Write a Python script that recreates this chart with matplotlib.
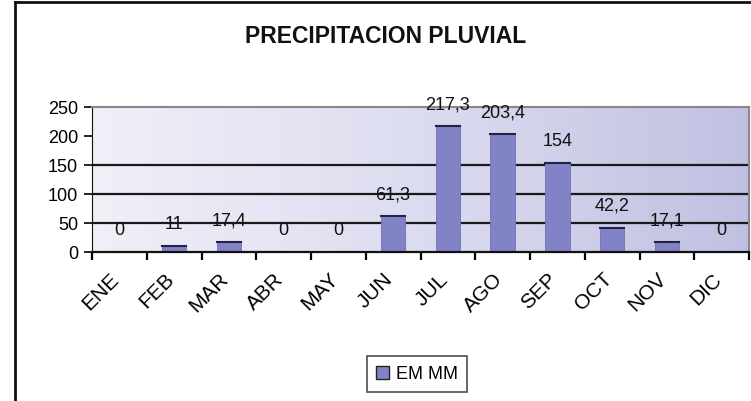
import numpy as np
import matplotlib
matplotlib.use("Agg")
import matplotlib.pyplot as plt
import matplotlib.transforms as mtransforms
from matplotlib.lines import Line2D
from matplotlib.patches import Patch
from matplotlib.colors import LinearSegmentedColormap

# datos
meses = ["ENE", "FEB", "MAR", "ABR", "MAY", "JUN", "JUL", "AGO", "SEP", "OCT", "NOV", "DIC"]
em_mm = [0, 11, 17.4, 0, 0, 61.3, 217.3, 203.4, 154, 42.2, 17.1, 0]
etiquetas = ["0", "11", "17,4", "0", "0", "61,3", "217,3", "203,4", "154", "42,2", "17,1", "0"]
yticks = [0, 50, 100, 150, 200, 250]
lineas_grid = [50, 100, 150]

plt.rcParams['font.family'] = ['Liberation Sans', 'DejaVu Sans']

fig = plt.figure(figsize=(7.51, 4.02), dpi=100)
ax = fig.add_axes([92/751, 1-253/402, 657/751, 145/402])

# fondo degradado (lavanda)
grad = np.linspace(0, 1, 256).reshape(1, -1)
cmap = LinearSegmentedColormap.from_list("fondo", ["#f0f0f8", "#dcdcf0", "#c0c0e2"])
ax.imshow(grad, extent=[-0.5, 11.5, 0, 250], aspect="auto", cmap=cmap, zorder=0)

x = np.arange(len(meses))
ax.bar(x, em_mm, width=0.45, color="#8282c6", edgecolor="#7070b8", linewidth=0.6, zorder=3)
# borde superior oscuro de cada barra
for xi, v in zip(x, em_mm):
    if v > 0:
        ax.plot([xi-0.225, xi+0.225], [v, v], color="#222244", lw=1.5, zorder=4)

for yv in lineas_grid:
    ax.axhline(yv, color="#1a1a1a", lw=1.6, zorder=2)

for xi, v, t in zip(x, em_mm, etiquetas):
    ax.annotate(t, (xi, v), xytext=(0, 16), textcoords="offset points",
                ha="center", va="center", fontsize=13, color="#111111", zorder=5)

ax.set_xlim(-0.5, 11.5)
ax.set_ylim(0, 250)
ax.set_yticks(yticks)
ax.tick_params(axis="y", labelsize=13, length=6, width=1.2, direction="out", pad=4)
ax.set_xticks(np.arange(-0.5, 12, 1))
ax.set_xticklabels([])
ax.tick_params(axis="x", length=6, width=1.6, direction="out")
ax.set_xticks(x, minor=True)
ax.set_xticklabels(meses, minor=True, rotation=45, ha="right", va="top",
                   rotation_mode="anchor", fontsize=15)
ax.tick_params(axis="x", which="minor", length=0, pad=12)
desplaza = mtransforms.ScaledTranslation(-10/100, 0, fig.dpi_scale_trans)
for lab in ax.get_xticklabels(minor=True):
    lab.set_transform(lab.get_transform() + desplaza)

for s in ["top", "right"]:
    ax.spines[s].set_color("#888888")
    ax.spines[s].set_linewidth(1.5)
ax.spines["left"].set_color("#111111")
ax.spines["bottom"].set_color("#111111")
ax.spines["bottom"].set_linewidth(1.6)
ax.spines["bottom"].set_zorder(6)

fig.text(0.513, 0.908, "PRECIPITACION PLUVIAL", ha="center", va="center",
         fontsize=16.5, fontweight="heavy", color="#111111",
         family=["Liberation Sans", "DejaVu Sans"])

leg = fig.legend(handles=[Patch(facecolor="#8282c6", edgecolor="#222222", label="EM MM")],
                 loc="center", bbox_to_anchor=(417/751, 1-375/402), fontsize=13,
                 frameon=True, fancybox=False, handlelength=0.7, handleheight=0.7,
                 handletextpad=0.4, borderpad=0.5)
leg.get_frame().set_edgecolor("#222222")
leg.get_frame().set_linewidth(1.2)

# marco exterior
fig.add_artist(Line2D([15/751, 15/751], [0, 1-3/402], color="#111111", lw=2))
fig.add_artist(Line2D([15/751, 1], [1-3/402, 1-3/402], color="#111111", lw=2))

fig.savefig("out.png", dpi=100)
